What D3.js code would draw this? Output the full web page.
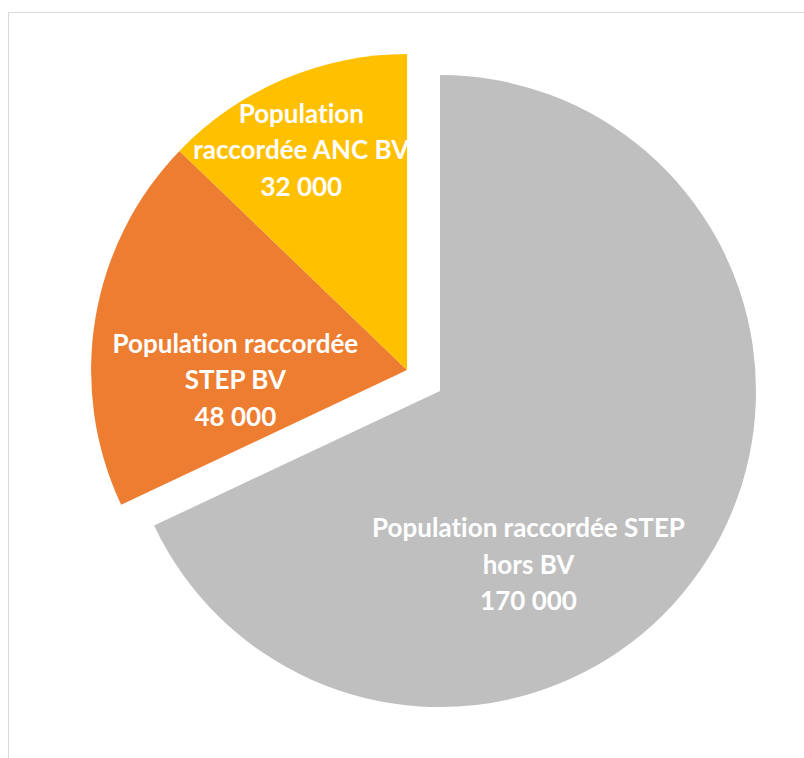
<!DOCTYPE html>
<html>
<head>
<meta charset="utf-8">
<script src="https://cdn.jsdelivr.net/npm/d3@7"></script>
<style>
  html, body { margin: 0; padding: 0; background: #fff; }
  svg { display: block; }
  text { font-variant-ligatures: none; font-feature-settings: "liga" 0, "clig" 0; }
</style>
</head>
<body>
<svg id="chart" width="804" height="758"></svg>
<script>
// ---- data ----
const categories = ["Population raccordée STEP hors BV", "Population raccordée STEP BV", "Population raccordée ANC BV"];
const values = [170000, 48000, 32000];
const labelLines = [
  ["Population raccordée STEP", "hors BV", "170 000"],
  ["Population raccordée", "STEP BV", "48 000"],
  ["Population", "raccordée ANC BV", "32 000"]
];
const colors = ["#BFBFBF", "#ED7D31", "#FFC000"];

// ---- layout ----
const svg = d3.select("#chart");
svg.append("rect")
  .attr("x", 8.5).attr("y", 12.5).attr("width", 820).attr("height", 780)
  .attr("fill", "#fff").attr("stroke", "#d9d9d9").attr("stroke-width", 1);

const cx = 440, cy = 391, r = 316;
const explode = 39;          // offset of the exploded group (STEP BV + ANC BV)
const labelPolar = [         // [angle in degrees clockwise from top, radius]
  [153, 195],
  [266.7, 172],
  [334.3, 244]
];

const data = categories.map((c, i) => ({ name: c, value: values[i], lines: labelLines[i], color: colors[i], idx: i }));
const pie = d3.pie().value(d => d.value).sort(null);
const arcs = pie(data);
const arc = d3.arc().innerRadius(0).outerRadius(r);

// exploded group direction
const gStart = arcs[1].startAngle, gEnd = arcs[2].endAngle;
const gMid = (gStart + gEnd) / 2;
const ox = Math.sin(gMid) * explode, oy = -Math.cos(gMid) * explode;

const g = svg.append("g").attr("transform", `translate(${cx},${cy})`);

const slices = g.selectAll("g.slice").data(arcs).join("g")
  .attr("class", "slice")
  .attr("transform", d => d.index === 0 ? null : `translate(${ox},${oy})`);

slices.append("path")
  .attr("d", arc)
  .attr("fill", d => d.data.color);

slices.each(function(d) {
  const [adeg, rad] = labelPolar[d.index];
  const a = adeg * Math.PI / 180;
  const lx = Math.sin(a) * rad, ly = -Math.cos(a) * rad;
  const t = d3.select(this).append("text")
    .attr("text-anchor", "middle")
    .attr("font-family", "Lato, 'Open Sans', sans-serif")
    .attr("font-weight", "bold")
    .attr("font-size", 26)
    .attr("fill", "#ffffff");
  const n = d.data.lines.length;
  d.data.lines.forEach((line, i) => {
    t.append("tspan")
      .attr("x", lx)
      .attr("y", ly + (i - (n - 1) / 2) * 36.5)
      .attr("dy", "0.35em")
      .text(line);
  });
});
</script>
</body>
</html>
